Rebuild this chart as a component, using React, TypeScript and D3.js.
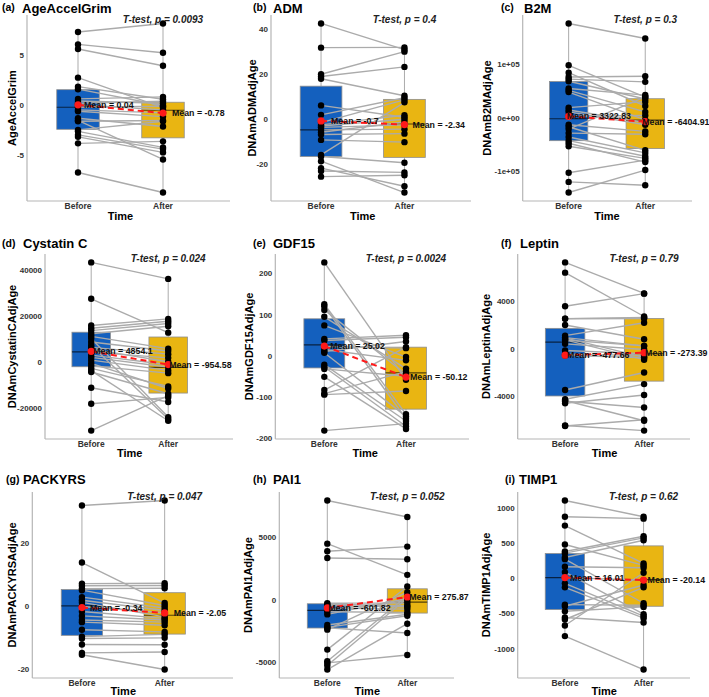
import React from "react";
import * as d3 from "d3";

// ---- labels ----
const groups = ["Before", "After"];
const tags = ["(a)", "(b)", "(c)", "(d)", "(e)", "(f)", "(g)", "(h)", "(i)"];
const titles = ["AgeAccelGrim", "ADM", "B2M", "Cystatin C", "GDF15", "Leptin", "PACKYRS", "PAI1", "TIMP1"];
const yTitles = [
  "AgeAccelGrim",
  "DNAmADMAdjAge",
  "DNAmB2MAdjAge",
  "DNAmCystatinCAdjAge",
  "DNAmGDF15AdjAge",
  "DNAmLeptinAdjAge",
  "DNAmPACKYRSAdjAge",
  "DNAmPAI1AdjAge",
  "DNAmTIMP1AdjAge",
];
const pTexts = [
  "T-test, p = 0.0093",
  "T-test, p = 0.4",
  "T-test, p = 0.3",
  "T-test, p = 0.024",
  "T-test, p = 0.0024",
  "T-test, p = 0.79",
  "T-test, p = 0.047",
  "T-test, p = 0.052",
  "T-test, p = 0.62",
];
const meanBefore = [0.04, -0.7, 3322.83, 4854.1, 25.02, -477.66, -0.34, -601.82, 16.01];
const meanAfter = [-0.78, -2.34, -6404.91, -954.58, -50.12, -273.39, -2.05, 275.87, -20.14];

// ---- paired values (same index = same subject) ----
const grimBefore = [7.3, 6.06, 5.6, 2.75, 1.85, 1.6, 0.63, 0.43, 0.2, 0.05, -0.2, -0.46, -0.6, -1.3, -1.5, -1.6, -2.45, -2.6, -2.95, -3.15, -3.8, -6.7];
const grimAfter = [8.15, 5.23, 3.94, -0.23, 0.6, -0.03, 0.83, 0.2, 0.4, -0.46, -0.1, -0.76, -1.13, -2.12, -5.4, -1.52, -1.6, -4.2, -4.37, -4.7, -3.6, -8.7];

const admBefore = [42.8, 32, 20.1, 19.1, 18.1, 6.2, 2.0, -1.5, -2.5, -3.0, -3.6, -4.7, -5.8, -6.8, -9.2, -15.9, -16.6, -18.7, -21.8, -23.1, -25.6];
const admAfter = [31.1, 32.1, 30.2, 23.4, 10.5, 0.9, 9.6, 8.7, 1.8, 0, -2.5, -4.4, -1.2, -6.4, -10.2, 7.6, -19.4, -32.7, -29.9, -23.7, -25];

const b2mBefore = [177000, 98800, 85000, 77000, 73000, 69000, 55600, 51900, 48800, 19800, 15400, 11700, 3700, -12300, -16000, -20400, -27800, -35200, -42000, -46900, -52500, -101900, -119000, -138900];
const b2mAfter = [148800, 39500, 22800, 78400, 67900, 35800, 43200, 11700, -3000, 30900, -8000, -12300, 5000, -24700, -60000, 40000, -30000, -64800, -71000, -82000, -75000, -78400, -125300, -96900];

const cysBefore = [43700, 27800, 16100, 14900, 13900, 12500, 11400, 10400, 8900, 7500, 6500, 5800, 4500, 3200, 2200, 1000, -400, -1500, -2600, -3600, -4200, -11100, -18100, -29800];
const cysAfter = [36500, 13000, 19000, 18000, 17000, 15800, 6000, -23900, 5000, -24700, 3600, 300, 2000, -1000, -2000, -3500, -11400, -4700, -10500, -25500, -13700, -17300, -15300, -14500];

const gdfBefore = [228, 126.4, 121.6, 112.8, 96, 75.2, 42.4, 38.4, 24, 16.8, 12, 8.8, -20, -25.6, -30.4, -49.6, -81.6, -90.4, -92.8, -180];
const gdfAfter = [-56.8, -140, -151.2, -43.2, -29.6, -1.6, 51.2, 46.4, 20, -9.6, 36, -145.6, -156.8, -169.6, -48, -176, 22.4, -36.8, -84, -163.2];

const lepBefore = [7333, 6472, 3639, 2600, 2583, 2056, 1167, 1000, 972, 806, 800, 472, -83, -400, -500, -3417, -4194, -4300, -4361, -4528, -6400, -6444];
const lepAfter = [4722, 2778, 4700, 2700, 2611, 861, 2250, 306, -667, -861, 300, 0, -361, -500, -700, -1944, -2917, -6000, -4889, -3833, -6833, -5917];

const packBefore = [32.2, 14, 7.3, 6.6, 5.7, 5.2, 3, 2, 1.3, 0, -1.6, -3, -4.3, -5, -7.4, -9.6, -10.2, -12.1, -14.8, -15.4];
const packAfter = [33.8, 1.1, 7.4, 6.7, 5.8, 0.3, -0.5, -1.3, -3.3, -2.0, -3.8, -4.3, -5, -6, -8.1, -8.9, -10, -12.2, -14.5, -20.1];

const paiBefore = [8005, 4548, 3936, 3404, -213, -300, -426, -612, -771, -900, -1117, -1968, -2154, -2200, -2340, -3936, -4867, -5000, -5213, -5532];
const paiAfter = [6676, 2048, 4309, 3298, -213, -426, -500, -691, -27, -957, 160, -1100, -1223, -2606, 665, 1117, 372, -4362, 200, -1862];

const timpBefore = [1113, 882, 755, 486, 387, 363, 302, 278, 170, 94, 16, -66, -123, -368, -392, -462, -552, -580, -665, -816];
const timpAfter = [882, 854, 217, 189, 604, 580, 547, -349, 156, -505, -20, -533, -561, -377, -90, -401, -623, -123, 85, -1292];

// box stats [q1, median, q3]
const boxBefore = [
  [-2.4, -0.2, 1.55],
  [-16.6, -4.7, 14.8],
  [-42000, -1000, 68500],
  [-1900, 4600, 13200],
  [-28, 28, 91.2],
  [-3917, 611, 1778],
  [-9.2, 0.2, 5.4],
  [-2207, -798, -266],
  [-439, 14, 358],
];
const boxAfter = [
  [-3.25, -0.5, 0.3],
  [-17, -2.1, 8.9],
  [-56800, -3700, 36400],
  [-13400, -2200, 11100],
  [-128, -40, 22.4],
  [-2667, -361, 2611],
  [-8.8, -2.8, 4.4],
  [-1011, -133, 931],
  [-392, -14, 467],
];

const yTicks = [
  [-5, 0, 5],
  [-20, 0, 20, 40],
  [-100000, 0, 100000],
  [-20000, 0, 20000, 40000],
  [-200, -100, 0, 100, 200],
  [-4000, 0, 4000],
  [-20, 0, 20],
  [-5000, 0, 5000],
  [-1000, -500, 0, 500, 1000],
];
const b2mTickLabels = ["-1e+05", "0e+00", "1e+05"];

const beforeSets = [grimBefore, admBefore, b2mBefore, cysBefore, gdfBefore, lepBefore, packBefore, paiBefore, timpBefore];
const afterSets = [grimAfter, admAfter, b2mAfter, cysAfter, gdfAfter, lepAfter, packAfter, paiAfter, timpAfter];

// ---- layout ----
const COL_X = [0, 236, 472];
const ROWS = [
  [15, 201],
  [254, 439],
  [492, 678],
];
const TITLE_Y = [12.7, 248.3, 484.3];
const XLAB_Y = [209.3, 447.3, 686];
const TIME_Y = [219.5, 456.7, 695];

const layout = [
  { L: 27, W: 187, R: 230, tagX: 2, titleX: 22, yTitleX: 12, nudge: [6, 9] },
  { L: 35, W: 183.5, R: 235, tagX: 17, titleX: 37, yTitleX: 15.5, nudge: [10, 8] },
  { L: 50.7, W: 168.5, R: 220, tagX: 29, titleX: 52, yTitleX: 14.5, nudge: [-2, -3] },
  { L: 45, W: 169.4, R: 233, tagX: 2, titleX: 23, yTitleX: 11.5, nudge: [2, 1] },
  { L: 39.3, W: 179.7, R: 233, tagX: 17, titleX: 37, yTitleX: 13.2, nudge: [6, 4] },
  { L: 45.7, W: 173.8, R: 218, tagX: 29, titleX: 48, yTitleX: 14, nudge: [2, 1] },
  { L: 32.3, W: 182, R: 233, tagX: 6, titleX: 23, yTitleX: 12, nudge: [8, 9] },
  { L: 43.3, W: 176, R: 218, tagX: 17, titleX: 37, yTitleX: 12, nudge: [1, 2] },
  { L: 45.7, W: 173.1, R: 218, tagX: 33, titleX: 47, yTitleX: 14, nudge: [5, 4] },
];

const FILLS = ["#1460BE", "#E9B512"];
const GREY = "#ababab";
const AXIS = "#b5b5b5";

const PanelView: React.FC<{ i: number }> = ({ i }) => {
  const col = i % 3;
  const row = Math.floor(i / 3);
  const lay = layout[i];
  const ox = COL_X[col];
  const [top, bottom] = ROWS[row];
  const before = beforeSets[i];
  const after = afterSets[i];

  const x = d3
    .scalePoint<string>()
    .domain(groups)
    .range([ox + lay.L, ox + lay.L + lay.W])
    .padding(0.6);
  const all = [...before, ...after];
  const [lo, hi] = d3.extent(all) as [number, number];
  const pad = (hi - lo) * 0.05;
  const y = d3.scaleLinear().domain([lo - pad, hi + pad]).range([bottom, top]);
  const bw = x.step() * 0.5;
  const xb = x("Before")!;
  const xa = x("After")!;

  const sets = [before, after];
  const boxes = [boxBefore[i], boxAfter[i]];
  const means = [meanBefore[i], meanAfter[i]];

  return (
    <g>
      {/* titles */}
      <text x={ox + lay.tagX} y={TITLE_Y[row] - 1.5} fontSize={10.5} fontWeight="bold">
        {tags[i]}
      </text>
      <text x={ox + lay.titleX} y={TITLE_Y[row]} fontSize={13} fontWeight="bold">
        {titles[i]}
      </text>

      {/* axes */}
      <line x1={ox + lay.L} x2={ox + lay.L} y1={top} y2={bottom} stroke={AXIS} strokeWidth={1.2} />
      <line x1={ox + lay.L} x2={ox + lay.R} y1={bottom} y2={bottom} stroke={AXIS} strokeWidth={1.2} />
      {yTicks[i].map((t, k) => (
        <text
          key={k}
          x={ox + lay.L - 3}
          y={y(t)}
          textAnchor="end"
          dominantBaseline="central"
          fontSize={8}
          fontWeight="bold"
          fill="#333"
        >
          {i === 2 ? b2mTickLabels[k] : String(t)}
        </text>
      ))}
      {groups.map((g) => (
        <text key={g} x={x(g)} y={XLAB_Y[row]} textAnchor="middle" fontSize={8.5} fontWeight="bold" fill="#333">
          {g}
        </text>
      ))}
      <text x={ox + lay.L + lay.W / 2} y={TIME_Y[row]} textAnchor="middle" fontSize={11} fontWeight="bold">
        Time
      </text>
      <text
        transform={`translate(${ox + lay.yTitleX},${(top + bottom) / 2}) rotate(-90)`}
        textAnchor="middle"
        dominantBaseline="central"
        fontSize={11}
        fontWeight="bold"
      >
        {yTitles[i]}
      </text>

      {/* boxes */}
      {groups.map((g, k) => {
        const cx = x(g)!;
        const [q1, med, q3] = boxes[k];
        const vals = sets[k];
        return (
          <g key={g}>
            <line x1={cx} x2={cx} y1={y(d3.max(vals)!)} y2={y(q3)} stroke={GREY} strokeWidth={1} />
            <line x1={cx} x2={cx} y1={y(q1)} y2={y(d3.min(vals)!)} stroke={GREY} strokeWidth={1} />
            <rect
              x={cx - bw / 2}
              y={y(q3)}
              width={bw}
              height={y(q1) - y(q3)}
              fill={FILLS[k]}
              stroke="#8e8e8e"
              strokeWidth={0.8}
            />
            <line
              x1={cx - bw / 2}
              x2={cx + bw / 2}
              y1={y(med)}
              y2={y(med)}
              stroke="#000"
              strokeOpacity={0.65}
              strokeWidth={1.2}
            />
          </g>
        );
      })}

      {/* paired lines */}
      {before.map((b, k) => (
        <line key={k} x1={xb} y1={y(b)} x2={xa} y2={y(after[k])} stroke={GREY} strokeWidth={1.4} />
      ))}
      {/* points */}
      {sets.map((vals, k) =>
        vals.map((v, j) => <circle key={`${k}-${j}`} cx={k === 0 ? xb : xa} cy={y(v)} r={3.2} fill="#000" />)
      )}

      {/* means */}
      <line
        x1={xb}
        y1={y(means[0])}
        x2={xa}
        y2={y(means[1])}
        stroke="#ff1a1a"
        strokeWidth={2}
        strokeDasharray="6 4"
      />
      {means.map((m, k) => (
        <circle key={k} cx={k === 0 ? xb : xa} cy={y(m)} r={3.6} fill="#ff1a1a" />
      ))}
      {means.map((m, k) => (
        <text
          key={k}
          x={(k === 0 ? xb : xa) + lay.nudge[k]}
          y={y(m)}
          dominantBaseline="central"
          fontSize={8.8}
          fontWeight="bold"
          fill="#111"
        >
          {`Mean = ${m}`}
        </text>
      ))}

      {/* t-test label */}
      <text
        x={xa}
        y={y(d3.max(all)!)}
        textAnchor="middle"
        fontSize={10}
        fontWeight="bold"
        fontStyle="italic"
        fill="#222"
      >
        {pTexts[i]}
      </text>
    </g>
  );
};

export default function App() {
  return (
    <div style={{ position: "absolute", left: 0, top: 0 }}>
      <svg
        width={709}
        height={697}
        style={{ display: "block", background: "#fff", fontFamily: "'Liberation Sans', Arial, sans-serif" }}
      >
        {titles.map((_, i) => (
          <PanelView key={i} i={i} />
        ))}
      </svg>
    </div>
  );
}
